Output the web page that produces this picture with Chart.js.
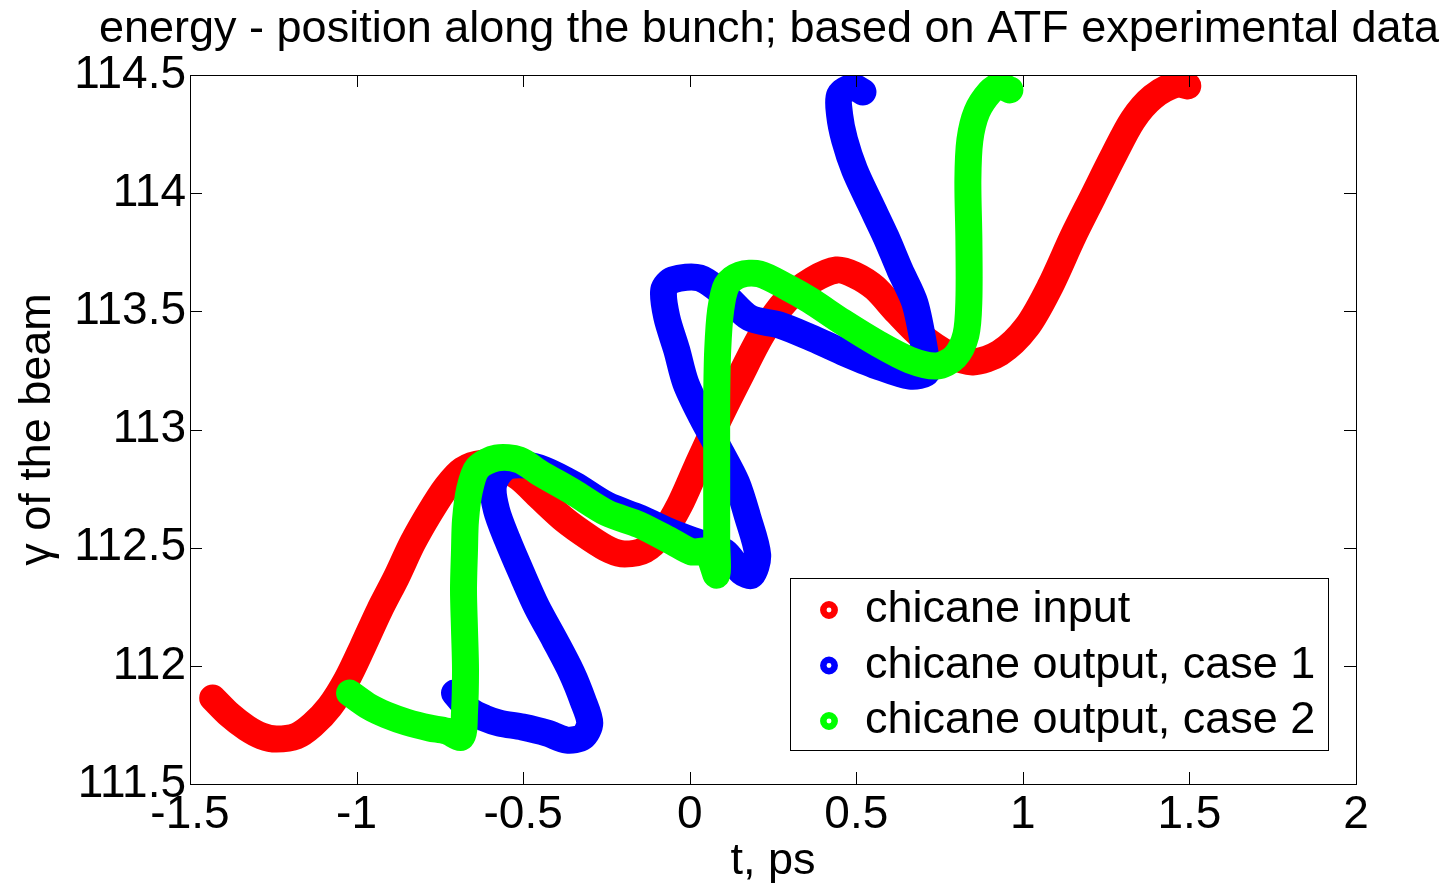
<!DOCTYPE html>
<html>
<head>
<meta charset="utf-8">
<title>energy - position along the bunch</title>
<script src="https://cdn.jsdelivr.net/npm/chart.js@4.4.1/dist/chart.umd.min.js"></script>
<style>
    html, body { margin: 0; padding: 0; background: #fff; }
    #chart { display: block; }
</style>
</head>
<body>
<canvas id="chart" width="1453" height="884"></canvas>
<script>
// chicane input (red)
const inputT = [-1.432, -1.381, -1.330, -1.285, -1.240, -1.180, -1.132, -1.081, -1.030, -0.982,
    -0.931, -0.880, -0.832, -0.781, -0.730, -0.682, -0.622, -0.571, -0.511, -0.450,
    -0.375, -0.300, -0.240, -0.195, -0.135, -0.081, -0.030, 0.021, 0.090, 0.150,
    0.219, 0.291, 0.369, 0.441, 0.495, 0.556, 0.622, 0.691, 0.781, 0.850,
    0.931, 1.012, 1.081, 1.150, 1.210, 1.270, 1.330, 1.390, 1.462, 1.495];
const inputGamma = [111.864, 111.792, 111.737, 111.703, 111.690, 111.703, 111.750, 111.826, 111.940, 112.080,
    112.236, 112.376, 112.520, 112.647, 112.757, 112.829, 112.858, 112.846, 112.795, 112.714,
    112.617, 112.541, 112.490, 112.473, 112.490, 112.562, 112.681, 112.841, 113.053, 113.222,
    113.408, 113.548, 113.633, 113.675, 113.654, 113.599, 113.497, 113.400, 113.315, 113.286,
    113.324, 113.434, 113.603, 113.815, 113.984, 114.153, 114.310, 114.407, 114.462, 114.454];

// chicane output, case 1 (blue)
const case1T = [-0.706, -0.661, -0.616, -0.571, -0.502, -0.429, -0.369, -0.321, -0.300, -0.321,
    -0.354, -0.405, -0.459, -0.505, -0.547, -0.580, -0.589, -0.556, -0.495, -0.435,
    -0.345, -0.249, -0.150, -0.051, 0.030, 0.105, 0.156, 0.186, 0.204, 0.174,
    0.141, 0.090, 0.036, -0.012, -0.039, -0.069, -0.078, -0.051, 0.030, 0.105,
    0.180, 0.270, 0.360, 0.459, 0.562, 0.661, 0.712, 0.706, 0.676, 0.631,
    0.589, 0.541, 0.495, 0.465, 0.450, 0.450, 0.489, 0.520];
const case1Gamma = [111.885, 111.813, 111.779, 111.758, 111.741, 111.716, 111.686, 111.699, 111.758, 111.855,
    111.970, 112.109, 112.249, 112.393, 112.532, 112.659, 112.765, 112.837, 112.850, 112.829,
    112.765, 112.681, 112.626, 112.562, 112.520, 112.482, 112.397, 112.384, 112.469, 112.630,
    112.774, 112.913, 113.053, 113.197, 113.336, 113.476, 113.590, 113.633, 113.641, 113.569,
    113.472, 113.442, 113.391, 113.328, 113.269, 113.226, 113.243, 113.328, 113.535, 113.675,
    113.815, 113.958, 114.098, 114.225, 114.331, 114.415, 114.449, 114.428];

// chicane output, case 2 (green)
const case2T = [-1.021, -0.961, -0.910, -0.850, -0.781, -0.730, -0.685, -0.676, -0.673, -0.676,
    -0.679, -0.676, -0.673, -0.661, -0.637, -0.580, -0.511, -0.450, -0.351, -0.249,
    -0.150, -0.051, 0.006, 0.051, 0.081, 0.081, 0.081, 0.081, 0.081, 0.084,
    0.093, 0.111, 0.150, 0.210, 0.291, 0.360, 0.459, 0.562, 0.661, 0.742,
    0.796, 0.829, 0.838, 0.838, 0.835, 0.841, 0.862, 0.901, 0.931, 0.961];
const case2Gamma = [111.885, 111.826, 111.792, 111.762, 111.737, 111.724, 111.699, 111.805, 111.982, 112.152,
    112.321, 112.490, 112.617, 112.744, 112.837, 112.879, 112.871, 112.816, 112.736, 112.647,
    112.596, 112.524, 112.482, 112.482, 112.384, 112.532, 112.702, 112.913, 113.125, 113.336,
    113.506, 113.611, 113.654, 113.658, 113.603, 113.548, 113.455, 113.366, 113.294, 113.269,
    113.307, 113.400, 113.548, 113.802, 114.056, 114.225, 114.344, 114.428, 114.454, 114.437];

const xTicks = [-1.5, -1, -0.5, 0, 0.5, 1, 1.5, 2];
const yTicks = [111.5, 112, 112.5, 113, 113.5, 114, 114.5];
const seriesNames = ['chicane input', 'chicane output, case 1', 'chicane output, case 2'];
const seriesColors = ['#ff0000', '#0000ff', '#00ff00'];
const titleText = 'energy - position along the bunch; based on ATF experimental data';

const FONT = "'Liberation Sans', Arial, Helvetica, sans-serif";
const TICK_LEN = 12;

function toPoints(ts, gs) {
    return ts.map((t, i) => ({ x: t, y: gs[i] }));
}

function band(label, ts, gs, color, order) {
    return {
        label: label,
        data: toPoints(ts, gs),
        showLine: true,
        borderColor: color,
        backgroundColor: color,
        borderWidth: 27,
        borderJoinStyle: 'round',
        borderCapStyle: 'round',
        pointRadius: 0,
        pointHoverRadius: 0,
        tension: 0.3,
        fill: false,
        order: order
    };
}

// MATLAB-like box, inward ticks, title and legend
const matlabAxes = {
    id: 'matlabAxes',
    afterDraw: function (chart) {
        const ctx = chart.ctx;
        const a = chart.chartArea;
        const xs = chart.scales.x;
        const ys = chart.scales.y;
        ctx.save();

        ctx.strokeStyle = '#000';
        ctx.lineWidth = 1;
        ctx.beginPath();
        xTicks.forEach(v => {
            const px = Math.round(xs.getPixelForValue(v)) + 0.5;
            ctx.moveTo(px, a.bottom); ctx.lineTo(px, a.bottom - TICK_LEN);
            ctx.moveTo(px, a.top); ctx.lineTo(px, a.top + TICK_LEN);
        });
        yTicks.forEach(v => {
            const py = Math.round(ys.getPixelForValue(v)) + 0.5;
            ctx.moveTo(a.left, py); ctx.lineTo(a.left + TICK_LEN, py);
            ctx.moveTo(a.right, py); ctx.lineTo(a.right - TICK_LEN, py);
        });
        ctx.stroke();
        ctx.strokeRect(a.left + 0.5, a.top + 0.5, a.right - a.left, a.bottom - a.top);

        // title
        ctx.fillStyle = '#000';
        ctx.font = '45px ' + FONT;
        ctx.textAlign = 'center';
        ctx.textBaseline = 'alphabetic';
        ctx.fillText(titleText, (a.left + a.right) / 2 - 4, 42);

        // legend
        const lx = 790, ly = 578, lw = 538, lh = 172;
        ctx.fillStyle = '#fff';
        ctx.fillRect(lx, ly, lw, lh);
        ctx.strokeStyle = '#000';
        ctx.strokeRect(lx + 0.5, ly + 0.5, lw, lh);
        ctx.textAlign = 'left';
        ctx.textBaseline = 'middle';
        seriesNames.forEach((name, i) => {
            const cy = 610 + i * 55.5;
            ctx.beginPath();
            ctx.arc(829, cy, 5.7, 0, Math.PI * 2);
            ctx.strokeStyle = seriesColors[i];
            ctx.lineWidth = 6.5;
            ctx.stroke();
            ctx.fillStyle = '#000';
            ctx.fillText(name, 865, cy);
        });

        ctx.restore();
    }
};

new Chart(document.getElementById('chart'), {
    type: 'scatter',
    data: {
        datasets: [
            band(seriesNames[0], inputT, inputGamma, seriesColors[0], 3),
            band(seriesNames[1], case1T, case1Gamma, seriesColors[1], 2),
            band(seriesNames[2], case2T, case2Gamma, seriesColors[2], 1)
        ]
    },
    options: {
        responsive: false,
        animation: false,
        devicePixelRatio: 1,
        events: [],
        layout: { padding: { top: 75, right: 97, left: 0, bottom: 0 } },
        plugins: {
            legend: { display: false },
            tooltip: { enabled: false },
            title: { display: false }
        },
        scales: {
            x: {
                type: 'linear',
                min: -1.5,
                max: 2,
                afterBuildTicks: s => { s.ticks = xTicks.map(v => ({ value: v })); },
                afterFit: s => { s.height = 100; },
                grid: { display: false, drawTicks: false },
                border: { display: false },
                ticks: {
                    color: '#000',
                    padding: 8,
                    maxRotation: 0,
                    autoSkip: false,
                    font: { family: FONT, size: 46, lineHeight: 1 },
                    callback: v => String(v)
                },
                title: {
                    display: true,
                    text: 't, ps',
                    color: '#000',
                    padding: { top: 0, bottom: 0 },
                    font: { family: FONT, size: 45, lineHeight: 1 }
                }
            },
            y: {
                type: 'linear',
                min: 111.5,
                max: 114.5,
                afterBuildTicks: s => { s.ticks = yTicks.map(v => ({ value: v })); },
                afterFit: s => { s.width = 190; },
                grid: { display: false, drawTicks: false },
                border: { display: false },
                ticks: {
                    color: '#000',
                    padding: 4,
                    autoSkip: false,
                    font: { family: FONT, size: 46, lineHeight: 1 },
                    callback: v => String(v)
                },
                title: {
                    display: true,
                    text: 'γ of the beam',
                    color: '#000',
                    padding: { top: 15, bottom: 0 },
                    font: { family: FONT, size: 45, lineHeight: 1 }
                }
            }
        }
    },
    plugins: [matlabAxes]
});
</script>
</body>
</html>
